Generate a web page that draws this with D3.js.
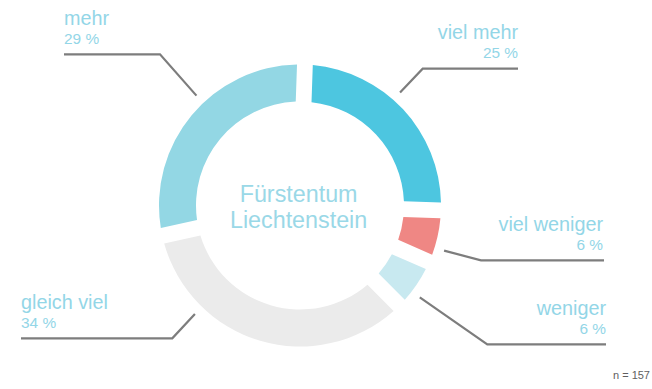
<!DOCTYPE html>
<html>
<head>
<meta charset="utf-8">
<script src="https://cdn.jsdelivr.net/npm/d3@7"></script>
<style>
  html, body { margin: 0; padding: 0; background: #fff; }
  svg { display: block; font-family: "Liberation Sans", Arial, Helvetica, sans-serif; }
</style>
</head>
<body>
<svg id="chart" width="652" height="389"></svg>
<script>
// Answers, clockwise from the top
const categories = ["viel mehr", "viel weniger", "weniger", "gleich viel", "mehr"];
const shares = [25, 6, 6, 34, 29];
const colors = ["#4dc6e0", "#ef8784", "#c8e9f0", "#ebebeb", "#93d7e4"];
const sampleNote = "n = 157";
const centerTitle = ["Fürstentum", "Liechtenstein"];

// Callout layout: text anchor side, horizontal rule, elbow and leader angle (deg, clockwise from 12 o'clock)
const callouts = [
  { side: "right", textX: 518, y: 68.7, x0: 518, elbowX: 422.7, angle: 41.5 },
  { side: "right", textX: 603, y: 260.3, x0: 604, elbowX: 481, angle: 107.4 },
  { side: "right", textX: 606, y: 344.3, x0: 606, elbowX: 487.3, angle: 127.5 },
  { side: "left",  textX: 21,  y: 338.3, x0: 21,  elbowX: 172.3, angle: 224.1 },
  { side: "left",  textX: 64,  y: 54.3,  x0: 64,  elbowX: 160,   angle: 316.7 }
];

const svg = d3.select("#chart");
const cx = 300, cy = 205.5;
const rOuter = 141, rInner = 104, rLeader = 151;
const startOffset = 2 * Math.PI / 180;

const pie = d3.pie()
  .value(d => d)
  .sort(null)
  .startAngle(startOffset)
  .endAngle(startOffset + 2 * Math.PI);

const arc = d3.arc()
  .innerRadius(rInner)
  .outerRadius(rOuter)
  .padRadius(rOuter)
  .padAngle(0.112);

const g = svg.append("g").attr("transform", `translate(${cx},${cy})`);

g.selectAll("path.slice")
  .data(pie(shares))
  .join("path")
  .attr("class", "slice")
  .attr("d", arc)
  .attr("fill", (d, i) => colors[i]);

// Centre title
const title = g.append("text")
  .attr("text-anchor", "middle")
  .attr("fill", "#9ad8e7")
  .style("font-size", "23.3px");
title.selectAll("tspan")
  .data(centerTitle)
  .join("tspan")
  .attr("x", -1.4)
  .attr("y", (d, i) => -4 + i * 26.5)
  .text(d => d);

// Leader lines and labels
const lineColor = "#7d7d7d";
const labelColor = "#93d6e7";

callouts.forEach((c, i) => {
  const a = c.angle * Math.PI / 180;
  const px = cx + rLeader * Math.sin(a);
  const py = cy - rLeader * Math.cos(a);
  svg.append("path")
    .attr("d", d3.line()([[c.x0, c.y], [c.elbowX, c.y], [px, py]]))
    .attr("fill", "none")
    .attr("stroke", lineColor)
    .attr("stroke-width", 2.2);

  const anchor = c.side === "right" ? "end" : "start";
  svg.append("text")
    .attr("x", c.textX)
    .attr("y", c.y - 29.5)
    .attr("text-anchor", anchor)
    .attr("fill", labelColor)
    .style("font-size", "19.8px")
    .text(categories[i]);
  svg.append("text")
    .attr("x", c.textX)
    .attr("y", c.y - 10.5)
    .attr("text-anchor", anchor)
    .attr("fill", labelColor)
    .style("font-size", "15.4px")
    .text(shares[i] + " %");
});

svg.append("text")
  .attr("x", 650)
  .attr("y", 379)
  .attr("text-anchor", "end")
  .attr("fill", "#5f5f5f")
  .style("font-size", "11px")
  .text(sampleNote);
</script>
</body>
</html>
